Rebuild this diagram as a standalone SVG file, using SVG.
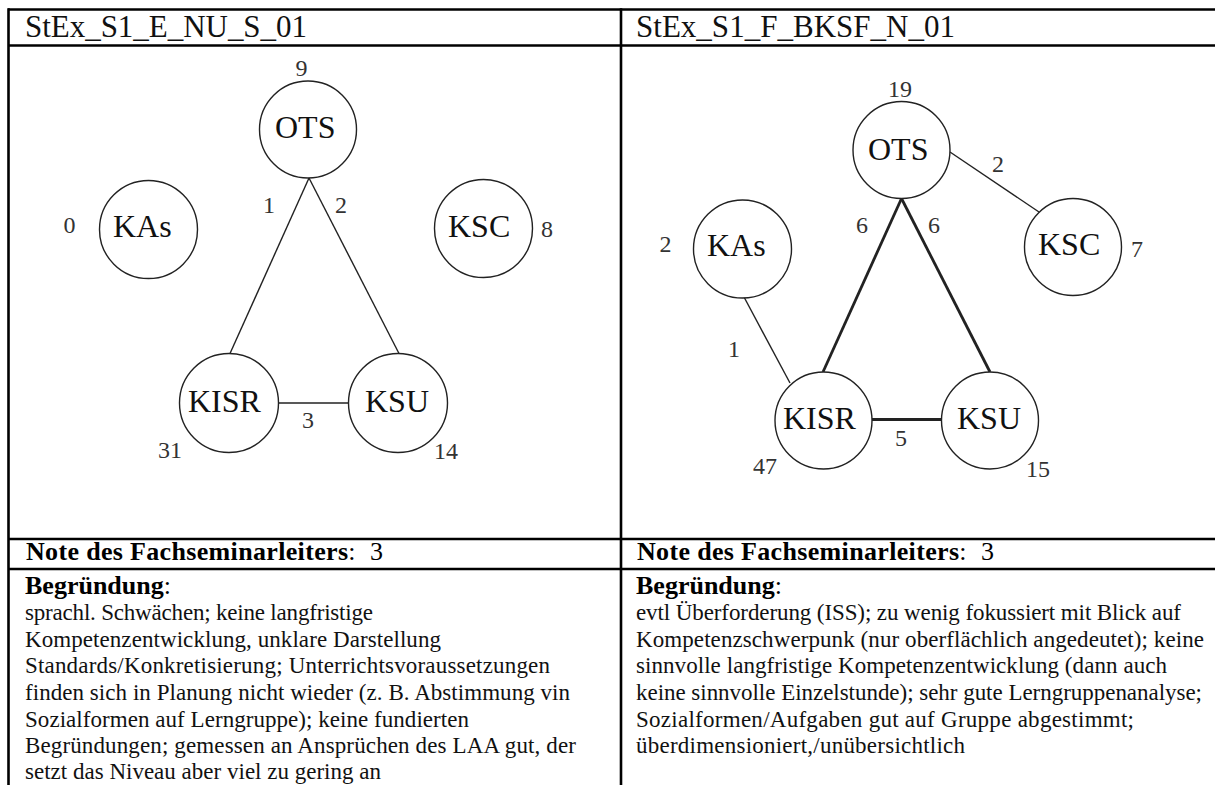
<svg xmlns="http://www.w3.org/2000/svg" width="1215" height="785" viewBox="0 0 1215 785" font-family="'Liberation Serif', 'Times New Roman', 'DejaVu Serif', serif">
  <style>
    text { font-family: "Liberation Serif", "Times New Roman", "DejaVu Serif", serif; }
    .rule { stroke: #000; stroke-width: 2.6; fill: none; }
    .node circle { fill: #fff; stroke: #222; stroke-width: 1.4; }
    .node text { font-size: 32px; fill: #111; }
    .edge { stroke: #222; stroke-width: 1.4; fill: none; }
    .edge.heavy { stroke-width: 2.8; }
    .num { font-size: 24px; fill: #333; text-anchor: middle; }
    .head { font-size: 31px; fill: #111; }
    .label { font-size: 26px; fill: #000; }
    .label .b { font-weight: bold; }
    .body text { font-size: 23px; fill: #111; }
  </style>

  <rect x="0" y="0" width="1215" height="785" fill="#fff"/>

  <!-- table rules -->
  <g id="table">
    <line class="rule" x1="8" y1="9.5" x2="1215" y2="9.5"/>
    <line class="rule" x1="8" y1="45.5" x2="1215" y2="45.5"/>
    <line class="rule" x1="8" y1="539" x2="1215" y2="539"/>
    <line class="rule" x1="8" y1="569" x2="1215" y2="569"/>
    <line class="rule" x1="8.5" y1="8.2" x2="8.5" y2="785"/>
    <line class="rule" x1="621" y1="8.2" x2="621" y2="785"/>
  </g>

  <!-- column headings -->
  <text class="head" x="25" y="37" textLength="282">StEx_S1_E_NU_S_01</text>
  <text class="head" x="636" y="37" textLength="319">StEx_S1_F_BKSF_N_01</text>

  <!-- connectors, left network -->
  <g id="edges-left">
    <line class="edge" x1="309" y1="178" x2="230" y2="353.5"/>
    <line class="edge" x1="309" y1="178" x2="399" y2="353.5"/>
    <line class="edge" x1="278.5" y1="403" x2="348.5" y2="403"/>
  </g>

  <!-- connectors, right network -->
  <g id="edges-right">
    <line class="edge heavy" x1="901.5" y1="198.5" x2="823" y2="372"/>
    <line class="edge heavy" x1="901.5" y1="198.5" x2="990" y2="372"/>
    <line class="edge heavy" x1="872" y1="419.5" x2="941.5" y2="419.5"/>
    <line class="edge" x1="950" y1="152" x2="1039" y2="212"/>
    <line class="edge" x1="744" y1="297" x2="790" y2="383"/>
  </g>

  <!-- left network nodes -->
  <g id="l-OTS" class="node"><circle cx="308" cy="129.5" r="48.5"/><text x="275" y="138">OTS</text></g>
  <g id="l-KAs" class="node"><circle cx="148.5" cy="229.5" r="49"/><text x="113" y="237">KAs</text></g>
  <g id="l-KSC" class="node"><circle cx="483.5" cy="228.5" r="49"/><text x="448" y="237">KSC</text></g>
  <g id="l-KISR" class="node"><circle cx="229" cy="403" r="49.5"/><text x="188" y="412">KISR</text></g>
  <g id="l-KSU" class="node"><circle cx="398" cy="403" r="49.5"/><text x="365" y="412">KSU</text></g>

  <!-- right network nodes -->
  <g id="r-OTS" class="node"><circle cx="901.5" cy="150" r="48.5"/><text x="868" y="160">OTS</text></g>
  <g id="r-KAs" class="node"><circle cx="742.5" cy="249" r="49"/><text x="707" y="256">KAs</text></g>
  <g id="r-KSC" class="node"><circle cx="1073" cy="247" r="48.5"/><text x="1038" y="255">KSC</text></g>
  <g id="r-KISR" class="node"><circle cx="823.5" cy="420.5" r="48.5"/><text x="783" y="429">KISR</text></g>
  <g id="r-KSU" class="node"><circle cx="990" cy="420.5" r="48.5"/><text x="957" y="429">KSU</text></g>

  <!-- counts and weights, left -->
  <g id="nums-left">
    <text class="num" x="301.5" y="76">9</text>
    <text class="num" x="69.5" y="233">0</text>
    <text class="num" x="547" y="237">8</text>
    <text class="num" x="269" y="213">1</text>
    <text class="num" x="341" y="213">2</text>
    <text class="num" x="308" y="428">3</text>
    <text class="num" x="170" y="458">31</text>
    <text class="num" x="446" y="459">14</text>
  </g>

  <!-- counts and weights, right -->
  <g id="nums-right">
    <text class="num" x="900" y="97">19</text>
    <text class="num" x="998" y="172">2</text>
    <text class="num" x="862" y="233">6</text>
    <text class="num" x="934" y="233">6</text>
    <text class="num" x="665.5" y="252">2</text>
    <text class="num" x="1137" y="257">7</text>
    <text class="num" x="734" y="357">1</text>
    <text class="num" x="901" y="446">5</text>
    <text class="num" x="765" y="474">47</text>
    <text class="num" x="1038" y="477">15</text>
  </g>

  <!-- grade row -->
  <text class="label" x="26" y="560"><tspan class="b" textLength="322">Note des Fachseminarleiters</tspan>:</text>
  <text class="label" x="370" y="560">3</text>
  <text class="label" x="637" y="560"><tspan class="b" textLength="322">Note des Fachseminarleiters</tspan>:</text>
  <text class="label" x="981" y="560">3</text>

  <!-- reasoning, left -->
  <text class="label" x="25" y="594"><tspan class="b">Begründung</tspan>:</text>
  <g class="body">
    <text x="25" y="620" textLength="348">sprachl. Schwächen; keine langfristige</text>
    <text x="25" y="647" textLength="416">Kompetenzentwicklung, unklare Darstellung</text>
    <text x="25" y="673" textLength="525">Standards/Konkretisierung; Unterrichtsvoraussetzungen</text>
    <text x="25" y="700" textLength="545">finden sich in Planung nicht wieder (z. B. Abstimmung vin</text>
    <text x="25" y="727" textLength="444">Sozialformen auf Lerngruppe); keine fundierten</text>
    <text x="25" y="753" textLength="551">Begründungen; gemessen an Ansprüchen des LAA gut, der</text>
    <text x="25" y="779" textLength="356">setzt das Niveau aber viel zu gering an</text>
  </g>

  <!-- reasoning, right -->
  <text class="label" x="636" y="594"><tspan class="b">Begründung</tspan>:</text>
  <g class="body">
    <text x="636" y="620" textLength="545">evtl Überforderung (ISS); zu wenig fokussiert mit Blick auf</text>
    <text x="636" y="647" textLength="568">Kompetenzschwerpunk (nur oberflächlich angedeutet); keine</text>
    <text x="636" y="673" textLength="531">sinnvolle langfristige Kompetenzentwicklung (dann auch</text>
    <text x="636" y="700" textLength="566">keine sinnvolle Einzelstunde); sehr gute Lerngruppenanalyse;</text>
    <text x="636" y="727" textLength="498">Sozialformen/Aufgaben gut auf Gruppe abgestimmt;</text>
    <text x="636" y="753" textLength="329">überdimensioniert,/unübersichtlich</text>
  </g>
</svg>
